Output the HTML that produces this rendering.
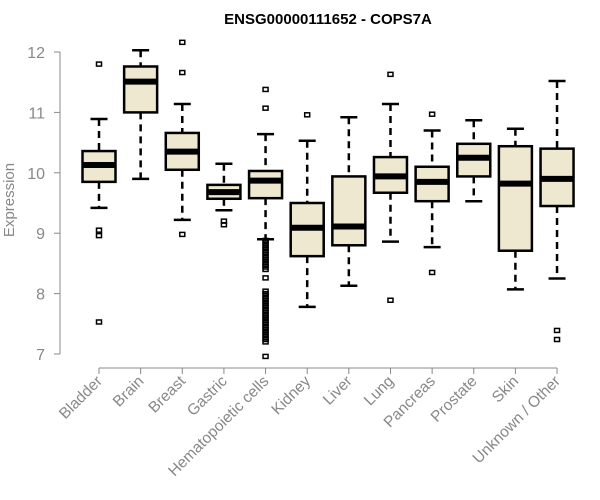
<!DOCTYPE html>
<html><head><meta charset="utf-8"><style>
body{margin:0;background:#fff;width:600px;height:500px;overflow:hidden}
svg{display:block;font-family:"Liberation Sans",Arial,sans-serif}
</style></head><body>
<svg id="chart" width="600" height="500"></svg>
<script>
const categories=["Bladder","Brain","Breast","Gastric","Hematopoietic cells","Kidney","Liver","Lung","Pancreas","Prostate","Skin","Unknown / Other"];
const whiskerLo=[9.42,9.90,9.22,9.38,8.90,7.78,8.13,8.86,8.77,9.53,8.07,8.25];
const q1=[9.85,11.0,10.05,9.57,9.58,8.62,8.80,9.67,9.53,9.94,8.71,9.45];
const medians=[10.13,11.51,10.35,9.68,9.87,9.09,9.11,9.94,9.85,10.25,9.82,9.90];
const q3=[10.36,11.76,10.66,9.80,10.03,9.50,9.94,10.26,10.10,10.48,10.44,10.40];
const whiskerHi=[10.89,12.03,11.14,10.15,10.64,10.53,10.92,11.14,10.70,10.87,10.73,11.52];
const outliers=[[11.80,9.05,8.96,7.53],[],[12.16,11.66,8.98],[9.20,9.14],
[11.38,11.07,8.88,8.84,8.80,8.76,8.72,8.68,8.64,8.60,8.56,8.52,8.48,8.44,8.40,8.26,8.04,8.00,7.96,7.92,7.88,7.84,7.80,7.76,7.72,7.68,7.64,7.60,7.56,7.52,7.48,7.44,7.40,7.36,7.32,7.28,7.24,7.20,6.96],
[10.96],[],[11.63,7.89],[10.97,8.35],[],[],[7.39,7.24]];
const yTicks=[7,8,9,10,11,12];
const svg=document.getElementById('chart');
const NS='http://www.w3.org/2000/svg';
const y=v=>52+(12-v)*60.4;
const x=i=>99+i*41.64;
function mk(tag,at,parent){const e=document.createElementNS(NS,tag);for(const k in at)e.setAttribute(k,at[k]);(parent||svg).appendChild(e);return e;}
let t=mk('text',{x:328,y:24,'text-anchor':'middle','font-size':15,'font-weight':'bold',fill:'#000'});t.textContent='ENSG00000111652 - COPS7A';


t=mk('text',{x:0,y:0,transform:'translate(14,200) rotate(-90)','text-anchor':'middle','font-size':15,fill:'#888'});t.textContent='Expression';


let ya=mk('line',{x1:60,x2:60,y1:y(12),y2:y(7),stroke:'#888'});


yTicks.forEach(v=>{mk('line',{x1:54,x2:60,y1:y(v),y2:y(v),stroke:'#888'});
const l=mk('text',{x:45,y:y(v)+6,'text-anchor':'end','font-size':16,fill:'#888'});l.textContent=v;

});
let xa=mk('line',{x1:x(0),x2:x(11),y1:368,y2:368,stroke:'#888'});


categories.forEach((c,i)=>{
const cx=x(i);
mk('line',{x1:cx,x2:cx,y1:368,y2:374,stroke:'#888'});
const l=mk('text',{x:0,y:0,transform:`translate(${cx+4},${382}) rotate(-45)`,'text-anchor':'end','font-size':15.5,fill:'#888'});l.textContent=c;


const g=mk('g',{});


mk('line',{x1:cx,x2:cx,y1:y(whiskerHi[i]),y2:y(q3[i]),stroke:'#000','stroke-width':2.5,'stroke-dasharray':'7,5'},g);
mk('line',{x1:cx,x2:cx,y1:y(q1[i]),y2:y(whiskerLo[i]),stroke:'#000','stroke-width':2.5,'stroke-dasharray':'7,5'},g);
mk('line',{x1:cx-8.5,x2:cx+8.5,y1:y(whiskerHi[i]),y2:y(whiskerHi[i]),stroke:'#000','stroke-width':2.5},g);
mk('line',{x1:cx-8.5,x2:cx+8.5,y1:y(whiskerLo[i]),y2:y(whiskerLo[i]),stroke:'#000','stroke-width':2.5},g);
mk('rect',{x:cx-16.5,y:y(q3[i]),width:33,height:y(q1[i])-y(q3[i]),fill:'#ede8cf',stroke:'#000','stroke-width':2.5},g);
mk('line',{x1:cx-16.5,x2:cx+16.5,y1:y(medians[i]),y2:y(medians[i]),stroke:'#000','stroke-width':6},g);
outliers[i].forEach(v=>{const p=mk('rect',{x:cx-2.5,y:y(v)-2,width:5,height:4,fill:'none',stroke:'#000','stroke-width':1.5},g);

});
});
</script>
</body></html>
